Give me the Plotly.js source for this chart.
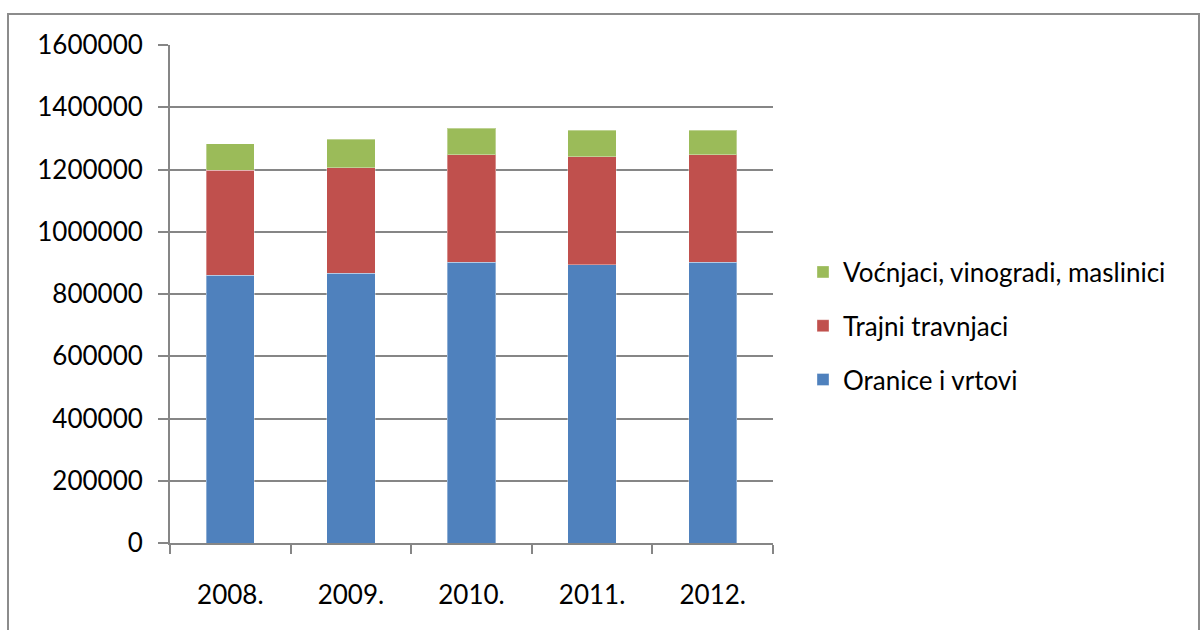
<!DOCTYPE html>
<html>
<head>
<meta charset="utf-8">
<script src="https://cdn.plot.ly/plotly-3.0.1.min.js"></script>
<style>
html,body{margin:0;padding:0;background:#fff;}
#chart{width:1200px;height:630px;}
</style>
</head>
<body>
<div id="chart"></div>
<script>
var years = ["2008.", "2009.", "2010.", "2011.", "2012."];
var oranice = [860000, 866000, 901500, 894000, 901500];
var trajni = [338000, 339500, 346000, 347000, 346000];
var vocnjaci = [85000, 91500, 84500, 84500, 78000];
var seriesNames = ["Oranice i vrtovi", "Trajni travnjaci", "Voćnjaci, vinogradi, maslinici"];
var colors = ["#4F81BD", "#C0504D", "#9BBB59"];
var legendRanks = [3, 2, 1];
var values = [oranice, trajni, vocnjaci];

var traces = values.map(function(v, i){
  return {
    type: "bar",
    x: years,
    y: v,
    name: seriesNames[i],
    legendgroup: "g" + i,
    legendrank: legendRanks[i],
    marker: {color: colors[i], line: {color: "rgba(255,255,255,0.35)", width: 1}},
    hoverinfo: "x+y+name"
  };
});

var font = "Lato, 'Open Sans', sans-serif";
var L = 170, R = 773, T = 45, B = 543, W = 1200, H = 630;
var pw = R - L, ph = B - T;

var layout = {
  width: W, height: H,
  margin: {l: L, r: W - R, t: T, b: H - B, pad: 0},
  paper_bgcolor: "#ffffff",
  plot_bgcolor: "#ffffff",
  barmode: "stack",
  bargap: 0.6,
  font: {family: font, size: 26, color: "#000"},
  xaxis: {
    type: "category",
    tickson: "boundaries",
    ticks: "outside",
    ticklen: 9,
    tickwidth: 2,
    tickcolor: "#868686",
    showline: true,
    linecolor: "#868686",
    linewidth: 2,
    showgrid: false,
    ticklabelstandoff: 28,
    tickfont: {family: font, size: 26, color: "#000"}
  },
  yaxis: {
    range: [0, 1600000],
    dtick: 200000,
    tick0: 0,
    tickformat: "d",
    ticks: "outside",
    ticklen: 10,
    tickwidth: 2,
    tickcolor: "#868686",
    showline: true,
    linecolor: "#868686",
    linewidth: 2,
    showgrid: true,
    gridcolor: "#868686",
    gridwidth: 2,
    zeroline: false,
    ticklabelstandoff: 10,
    tickfont: {family: font, size: 26, color: "#000"}
  },
  legend: {
    traceorder: "grouped",
    tracegroupgap: 17,
    x: (803 - L) / pw,
    xanchor: "left",
    y: (B - 326) / ph,
    yanchor: "middle",
    font: {family: font, size: 26, color: "#000"},
    bgcolor: "rgba(0,0,0,0)"
  },
  shapes: [{
    type: "rect",
    xref: "paper", yref: "paper",
    x0: (8 - L) / pw, x1: (1199 - L) / pw,
    y0: (B - 640) / ph, y1: (B - 14) / ph,
    line: {color: "#8C8C8C", width: 2},
    fillcolor: "rgba(0,0,0,0)",
    layer: "below"
  }],
  showlegend: true
};

Plotly.newPlot("chart", traces, layout, {displayModeBar: false, staticPlot: true});
</script>
</body>
</html>
